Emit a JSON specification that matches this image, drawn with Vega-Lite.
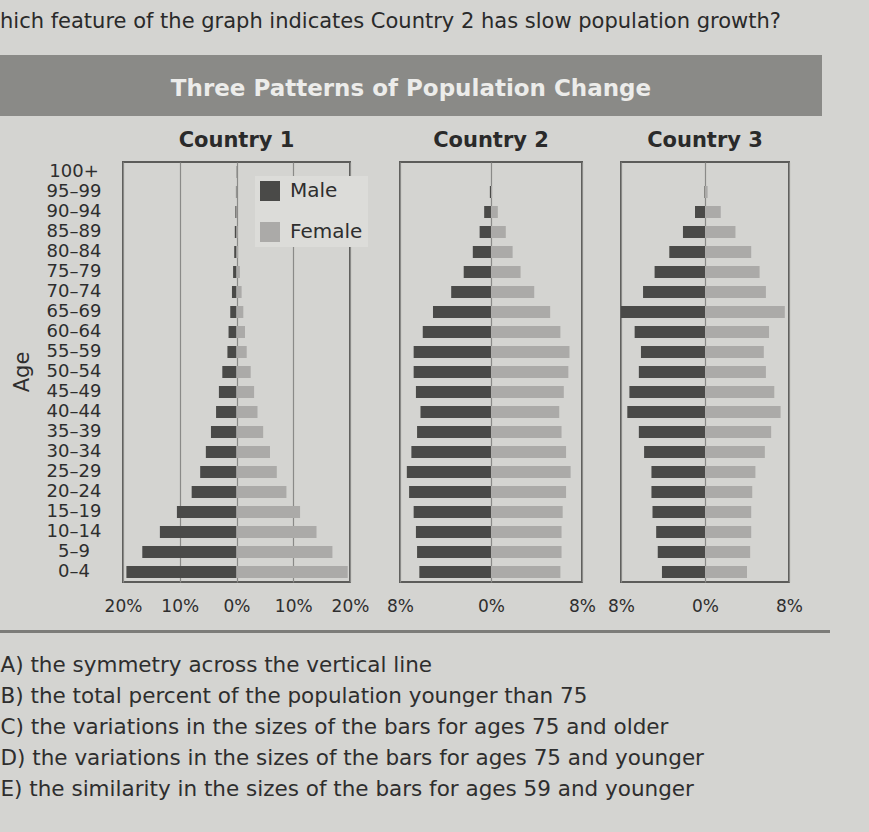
{
  "$schema": "https://vega.github.io/schema/vega-lite/v6.json",
  "background": "#d4d4d1",
  "padding": {"left": 0, "top": 11, "right": 39, "bottom": 30},
  "title": {
    "text": "hich feature of the graph indicates Country 2 has slow population growth?",
    "anchor": "start",
    "fontSize": 21,
    "fontWeight": "normal",
    "font": "DejaVu Sans",
    "color": "#2a2a2a",
    "offset": 23
  },
  "datasets": {
    "hdr": [{"label": "Three Patterns of Population Change"}],
    "agetitle": [{"label": "Age"}],
    "ages": [
      {"age": "100+"}, {"age": "95–99"}, {"age": "90–94"}, {"age": "85–89"}, {"age": "80–84"}, {"age": "75–79"}, {"age": "70–74"},
      {"age": "65–69"}, {"age": "60–64"}, {"age": "55–59"}, {"age": "50–54"}, {"age": "45–49"}, {"age": "40–44"}, {"age": "35–39"},
      {"age": "30–34"}, {"age": "25–29"}, {"age": "20–24"}, {"age": "15–19"}, {"age": "10–14"}, {"age": "5–9"}, {"age": "0–4"}
    ],
    "ans": [
      {"choice": "A", "label": "A)  the symmetry across the vertical line"},
      {"choice": "B", "label": "B)  the total percent of the population younger than 75"},
      {"choice": "C", "label": "C)  the variations in the sizes of the bars for ages 75 and older"},
      {"choice": "D", "label": "D)  the variations in the sizes of the bars for ages 75 and younger"},
      {"choice": "E", "label": "E)  the similarity in the sizes of the bars for ages 59 and younger"}
    ],
    "c1": [
      {"age": "0–4", "sex": "Male", "value": -19.4}, {"age": "0–4", "sex": "Female", "value": 19.6},
      {"age": "5–9", "sex": "Male", "value": -16.6}, {"age": "5–9", "sex": "Female", "value": 16.9},
      {"age": "10–14", "sex": "Male", "value": -13.5}, {"age": "10–14", "sex": "Female", "value": 14.1},
      {"age": "15–19", "sex": "Male", "value": -10.5}, {"age": "15–19", "sex": "Female", "value": 11.2},
      {"age": "20–24", "sex": "Male", "value": -7.9}, {"age": "20–24", "sex": "Female", "value": 8.8},
      {"age": "25–29", "sex": "Male", "value": -6.4}, {"age": "25–29", "sex": "Female", "value": 7.1},
      {"age": "30–34", "sex": "Male", "value": -5.4}, {"age": "30–34", "sex": "Female", "value": 5.9},
      {"age": "35–39", "sex": "Male", "value": -4.5}, {"age": "35–39", "sex": "Female", "value": 4.7},
      {"age": "40–44", "sex": "Male", "value": -3.6}, {"age": "40–44", "sex": "Female", "value": 3.7},
      {"age": "45–49", "sex": "Male", "value": -3.1}, {"age": "45–49", "sex": "Female", "value": 3.1},
      {"age": "50–54", "sex": "Male", "value": -2.5}, {"age": "50–54", "sex": "Female", "value": 2.5},
      {"age": "55–59", "sex": "Male", "value": -1.6}, {"age": "55–59", "sex": "Female", "value": 1.8},
      {"age": "60–64", "sex": "Male", "value": -1.4}, {"age": "60–64", "sex": "Female", "value": 1.5},
      {"age": "65–69", "sex": "Male", "value": -1.1}, {"age": "65–69", "sex": "Female", "value": 1.2},
      {"age": "70–74", "sex": "Male", "value": -0.8}, {"age": "70–74", "sex": "Female", "value": 0.9},
      {"age": "75–79", "sex": "Male", "value": -0.6}, {"age": "75–79", "sex": "Female", "value": 0.6},
      {"age": "80–84", "sex": "Male", "value": -0.4}, {"age": "80–84", "sex": "Female", "value": 0.3},
      {"age": "85–89", "sex": "Male", "value": -0.3}, {"age": "85–89", "sex": "Female", "value": 0.2},
      {"age": "90–94", "sex": "Male", "value": -0.2}, {"age": "90–94", "sex": "Female", "value": 0.1},
      {"age": "95–99", "sex": "Male", "value": -0.1}, {"age": "95–99", "sex": "Female", "value": 0.05},
      {"age": "100+", "sex": "Male", "value": -0.05}, {"age": "100+", "sex": "Female", "value": 0}
    ],
    "c2": [
      {"age": "0–4", "sex": "Male", "value": -6.3}, {"age": "0–4", "sex": "Female", "value": 6.1},
      {"age": "5–9", "sex": "Male", "value": -6.5}, {"age": "5–9", "sex": "Female", "value": 6.2},
      {"age": "10–14", "sex": "Male", "value": -6.6}, {"age": "10–14", "sex": "Female", "value": 6.2},
      {"age": "15–19", "sex": "Male", "value": -6.8}, {"age": "15–19", "sex": "Female", "value": 6.3},
      {"age": "20–24", "sex": "Male", "value": -7.2}, {"age": "20–24", "sex": "Female", "value": 6.6},
      {"age": "25–29", "sex": "Male", "value": -7.4}, {"age": "25–29", "sex": "Female", "value": 7.0},
      {"age": "30–34", "sex": "Male", "value": -7.0}, {"age": "30–34", "sex": "Female", "value": 6.6},
      {"age": "35–39", "sex": "Male", "value": -6.5}, {"age": "35–39", "sex": "Female", "value": 6.2},
      {"age": "40–44", "sex": "Male", "value": -6.2}, {"age": "40–44", "sex": "Female", "value": 6.0},
      {"age": "45–49", "sex": "Male", "value": -6.6}, {"age": "45–49", "sex": "Female", "value": 6.4},
      {"age": "50–54", "sex": "Male", "value": -6.8}, {"age": "50–54", "sex": "Female", "value": 6.8},
      {"age": "55–59", "sex": "Male", "value": -6.8}, {"age": "55–59", "sex": "Female", "value": 6.9},
      {"age": "60–64", "sex": "Male", "value": -6.0}, {"age": "60–64", "sex": "Female", "value": 6.1},
      {"age": "65–69", "sex": "Male", "value": -5.1}, {"age": "65–69", "sex": "Female", "value": 5.2},
      {"age": "70–74", "sex": "Male", "value": -3.5}, {"age": "70–74", "sex": "Female", "value": 3.8},
      {"age": "75–79", "sex": "Male", "value": -2.4}, {"age": "75–79", "sex": "Female", "value": 2.6},
      {"age": "80–84", "sex": "Male", "value": -1.6}, {"age": "80–84", "sex": "Female", "value": 1.9},
      {"age": "85–89", "sex": "Male", "value": -1.0}, {"age": "85–89", "sex": "Female", "value": 1.3},
      {"age": "90–94", "sex": "Male", "value": -0.6}, {"age": "90–94", "sex": "Female", "value": 0.6},
      {"age": "95–99", "sex": "Male", "value": -0.1}, {"age": "95–99", "sex": "Female", "value": 0.1},
      {"age": "100+", "sex": "Male", "value": 0}, {"age": "100+", "sex": "Female", "value": 0}
    ],
    "c3": [
      {"age": "0–4", "sex": "Male", "value": -4.1}, {"age": "0–4", "sex": "Female", "value": 4.0},
      {"age": "5–9", "sex": "Male", "value": -4.5}, {"age": "5–9", "sex": "Female", "value": 4.3},
      {"age": "10–14", "sex": "Male", "value": -4.65}, {"age": "10–14", "sex": "Female", "value": 4.4},
      {"age": "15–19", "sex": "Male", "value": -5.0}, {"age": "15–19", "sex": "Female", "value": 4.4},
      {"age": "20–24", "sex": "Male", "value": -5.1}, {"age": "20–24", "sex": "Female", "value": 4.5},
      {"age": "25–29", "sex": "Male", "value": -5.1}, {"age": "25–29", "sex": "Female", "value": 4.8},
      {"age": "30–34", "sex": "Male", "value": -5.8}, {"age": "30–34", "sex": "Female", "value": 5.7},
      {"age": "35–39", "sex": "Male", "value": -6.3}, {"age": "35–39", "sex": "Female", "value": 6.3},
      {"age": "40–44", "sex": "Male", "value": -7.4}, {"age": "40–44", "sex": "Female", "value": 7.2},
      {"age": "45–49", "sex": "Male", "value": -7.2}, {"age": "45–49", "sex": "Female", "value": 6.6},
      {"age": "50–54", "sex": "Male", "value": -6.3}, {"age": "50–54", "sex": "Female", "value": 5.8},
      {"age": "55–59", "sex": "Male", "value": -6.1}, {"age": "55–59", "sex": "Female", "value": 5.6},
      {"age": "60–64", "sex": "Male", "value": -6.7}, {"age": "60–64", "sex": "Female", "value": 6.1},
      {"age": "65–69", "sex": "Male", "value": -8.0}, {"age": "65–69", "sex": "Female", "value": 7.6},
      {"age": "70–74", "sex": "Male", "value": -5.9}, {"age": "70–74", "sex": "Female", "value": 5.8},
      {"age": "75–79", "sex": "Male", "value": -4.8}, {"age": "75–79", "sex": "Female", "value": 5.2},
      {"age": "80–84", "sex": "Male", "value": -3.4}, {"age": "80–84", "sex": "Female", "value": 4.4},
      {"age": "85–89", "sex": "Male", "value": -2.1}, {"age": "85–89", "sex": "Female", "value": 2.9},
      {"age": "90–94", "sex": "Male", "value": -0.95}, {"age": "90–94", "sex": "Female", "value": 1.5},
      {"age": "95–99", "sex": "Male", "value": -0.05}, {"age": "95–99", "sex": "Female", "value": 0.25},
      {"age": "100+", "sex": "Male", "value": 0}, {"age": "100+", "sex": "Female", "value": 0}
    ]
  },
  "spacing": 13,
  "vconcat": [
    {
      "width": 822,
      "height": 61,
      "view": {"fill": "#8a8a87", "stroke": null},
      "data": {"name": "hdr"},
      "mark": {"type": "text", "font": "DejaVu Sans", "fontWeight": "bold", "fontSize": 23, "color": "#ececea", "dy": 3},
      "encoding": {"text": {"field": "label"}}
    },
    {
      "spacing": 1,
      "resolve": {"scale": {"x": "independent", "color": "independent"}, "legend": {"color": "independent"}},
      "hconcat": [
        {
          "spacing": 0,
          "hconcat": [
            {
              "width": 46,
              "height": 420,
              "view": {"stroke": null},
              "data": {"name": "agetitle"},
              "mark": {"type": "text", "angle": 270, "fontSize": 21, "fontWeight": "normal", "color": "#2e2e2e"},
              "encoding": {"text": {"field": "label"}}
            },
            {
              "width": 56,
              "height": 420,
              "view": {"stroke": null},
              "data": {"name": "ages"},
              "mark": {"type": "text", "fontSize": 18, "color": "#2e2e2e"},
              "encoding": {
                "y": {
                  "field": "age", "type": "nominal",
                  "sort": ["100+", "95–99", "90–94", "85–89", "80–84", "75–79", "70–74", "65–69", "60–64", "55–59", "50–54", "45–49", "40–44", "35–39", "30–34", "25–29", "20–24", "15–19", "10–14", "5–9", "0–4"],
                  "scale": {"paddingInner": 0.4, "paddingOuter": 0.2},
                  "axis": null
                },
                "text": {"field": "age"}
              }
            }
          ]
        },
        {
          "spacing": 15,
          "resolve": {"scale": {"x": "independent", "color": "independent"}, "legend": {"color": "independent"}},
          "hconcat": [
            {
              "width": 227,
              "height": 420,
              "title": {"text": "Country 1", "frame": "group", "anchor": "middle", "fontSize": 21, "fontWeight": "bold", "offset": 11, "color": "#2a2a2a"},
              "data": {"name": "c1"},
              "mark": {"type": "bar"},
              "encoding": {
                "y": {
                  "field": "age", "type": "nominal",
                  "sort": ["100+", "95–99", "90–94", "85–89", "80–84", "75–79", "70–74", "65–69", "60–64", "55–59", "50–54", "45–49", "40–44", "35–39", "30–34", "25–29", "20–24", "15–19", "10–14", "5–9", "0–4"],
                  "scale": {"paddingInner": 0.4, "paddingOuter": 0.2},
                  "axis": null
                },
                "x": {
                  "field": "value", "type": "quantitative",
                  "scale": {"domain": [-20, 20], "nice": false},
                  "axis": {"values": [-20, -10, 0, 10, 20], "labelExpr": "abs(datum.value) + '%'", "title": null, "ticks": false, "tickSize": 0, "domain": false, "grid": true, "gridColor": "#8a8a88", "gridWidth": 1.2, "labelFlush": false, "labelPadding": 16, "labelFontSize": 17}
                },
                "color": {
                  "field": "sex", "type": "nominal",
                  "scale": {"domain": ["Male", "Female"], "range": ["#4a4a48", "#abaaa8"]},
                  "legend": {"title": null, "orient": "none", "legendX": 132, "legendY": 14, "symbolType": "square", "symbolSize": 400, "symbolStrokeWidth": 0, "symbolOpacity": 1, "labelFontSize": 20, "labelOffset": 10, "rowPadding": 21, "padding": 5, "fillColor": "#dcdcd9"}
                }
              }
            },
            {
              "spacing": 9,
              "resolve": {"scale": {"x": "independent", "color": "independent"}, "legend": {"color": "independent"}},
              "hconcat": [
                {
                  "width": 182,
                  "height": 420,
                  "title": {"text": "Country 2", "frame": "group", "anchor": "middle", "fontSize": 21, "fontWeight": "bold", "offset": 11, "color": "#2a2a2a"},
                  "data": {"name": "c2"},
                  "mark": {"type": "bar"},
                  "encoding": {
                    "y": {
                      "field": "age", "type": "nominal",
                      "sort": ["100+", "95–99", "90–94", "85–89", "80–84", "75–79", "70–74", "65–69", "60–64", "55–59", "50–54", "45–49", "40–44", "35–39", "30–34", "25–29", "20–24", "15–19", "10–14", "5–9", "0–4"],
                      "scale": {"paddingInner": 0.4, "paddingOuter": 0.2},
                      "axis": null
                    },
                    "x": {
                      "field": "value", "type": "quantitative",
                      "scale": {"domain": [-8, 8], "nice": false},
                      "axis": {"values": [-8, 0, 8], "labelExpr": "abs(datum.value) + '%'", "title": null, "ticks": false, "tickSize": 0, "domain": false, "grid": true, "gridColor": "#8a8a88", "gridWidth": 1.2, "labelFlush": false, "labelPadding": 16, "labelFontSize": 17}
                    },
                    "color": {
                      "field": "sex", "type": "nominal",
                      "scale": {"domain": ["Male", "Female"], "range": ["#4a4a48", "#abaaa8"]},
                      "legend": null
                    }
                  }
                },
                {
                  "width": 168,
                  "height": 420,
                  "title": {"text": "Country 3", "frame": "group", "anchor": "middle", "fontSize": 21, "fontWeight": "bold", "offset": 11, "color": "#2a2a2a"},
                  "data": {"name": "c3"},
                  "mark": {"type": "bar"},
                  "encoding": {
                    "y": {
                      "field": "age", "type": "nominal",
                      "sort": ["100+", "95–99", "90–94", "85–89", "80–84", "75–79", "70–74", "65–69", "60–64", "55–59", "50–54", "45–49", "40–44", "35–39", "30–34", "25–29", "20–24", "15–19", "10–14", "5–9", "0–4"],
                      "scale": {"paddingInner": 0.4, "paddingOuter": 0.2},
                      "axis": null
                    },
                    "x": {
                      "field": "value", "type": "quantitative",
                      "scale": {"domain": [-8, 8], "nice": false},
                      "axis": {"values": [-8, 0, 8], "labelExpr": "abs(datum.value) + '%'", "title": null, "ticks": false, "tickSize": 0, "domain": false, "grid": true, "gridColor": "#8a8a88", "gridWidth": 1.2, "labelFlush": false, "labelPadding": 16, "labelFontSize": 17}
                    },
                    "color": {
                      "field": "sex", "type": "nominal",
                      "scale": {"domain": ["Male", "Female"], "range": ["#4a4a48", "#abaaa8"]},
                      "legend": null
                    }
                  }
                }
              ]
            }
          ]
        }
      ]
    },
    {
      "width": 830,
      "height": 3,
      "view": {"fill": "#7c7c79", "stroke": null},
      "data": {"values": [{}]},
      "mark": {"type": "point", "opacity": 0},
      "encoding": {}
    },
    {
      "width": 1,
      "height": 156,
      "view": {"stroke": null},
      "data": {"name": "ans"},
      "mark": {"type": "text", "align": "left", "fontSize": 21.5, "font": "DejaVu Sans", "color": "#2e2e2e", "dy": 2},
      "encoding": {
        "y": {"field": "choice", "type": "nominal", "axis": null, "scale": {"paddingInner": 0, "paddingOuter": 0}},
        "text": {"field": "label"}
      }
    }
  ],
  "config": {
    "font": "DejaVu Sans",
    "view": {"stroke": "#5c5c5a", "strokeWidth": 2},
    "axis": {"labelColor": "#2e2e2e", "titleColor": "#2e2e2e", "labelFont": "DejaVu Sans", "titleFont": "DejaVu Sans"},
    "legend": {"labelColor": "#2e2e2e", "labelFont": "DejaVu Sans"}
  }
}
